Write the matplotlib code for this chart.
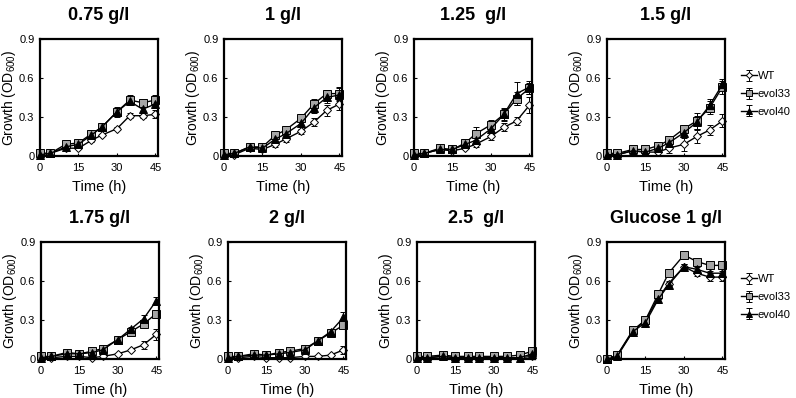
import matplotlib
matplotlib.use('Agg')
from matplotlib import pyplot as plt

plt.rcParams['font.family'] = ['Liberation Sans', 'DejaVu Sans']
plt.rcParams['mathtext.default'] = 'regular'

titles = ['0.75 g/l', '1 g/l', '1.25  g/l', '1.5 g/l',
          '1.75 g/l', '2 g/l', '2.5  g/l', 'Glucose 1 g/l']
time_h = [0, 4, 10, 15, 20, 24, 30, 35, 40, 45]

# mean OD600 per panel
wt_mean = [
    [0.02, 0.02, 0.06, 0.06, 0.12, 0.16, 0.21, 0.31, 0.31, 0.32],
    [0.01, 0.01, 0.06, 0.05, 0.09, 0.13, 0.19, 0.26, 0.35, 0.40],
    [0.01, 0.02, 0.05, 0.04, 0.06, 0.09, 0.15, 0.22, 0.27, 0.39],
    [0.01, 0.01, 0.04, 0.03, 0.03, 0.06, 0.09, 0.15, 0.20, 0.27],
    [0.01, 0.01, 0.02, 0.02, 0.01, 0.02, 0.04, 0.07, 0.11, 0.19],
    [0.01, 0.01, 0.02, 0.01, 0.01, 0.01, 0.02, 0.02, 0.03, 0.07],
    [0.01, 0.01, 0.02, 0.01, 0.01, 0.01, 0.01, 0.01, 0.01, 0.02],
    [0.00, 0.03, 0.21, 0.30, 0.47, 0.58, 0.71, 0.66, 0.63, 0.63],
]
e33_mean = [
    [0.02, 0.02, 0.09, 0.10, 0.17, 0.22, 0.34, 0.43, 0.41, 0.43],
    [0.02, 0.02, 0.07, 0.07, 0.16, 0.20, 0.29, 0.40, 0.48, 0.48],
    [0.02, 0.02, 0.06, 0.05, 0.10, 0.17, 0.24, 0.32, 0.44, 0.52],
    [0.02, 0.02, 0.05, 0.05, 0.08, 0.12, 0.21, 0.27, 0.37, 0.53],
    [0.02, 0.02, 0.05, 0.04, 0.06, 0.08, 0.15, 0.21, 0.27, 0.35],
    [0.02, 0.02, 0.04, 0.03, 0.05, 0.06, 0.08, 0.14, 0.20, 0.26],
    [0.02, 0.02, 0.03, 0.02, 0.02, 0.02, 0.02, 0.02, 0.03, 0.06],
    [0.00, 0.03, 0.22, 0.30, 0.50, 0.66, 0.80, 0.75, 0.72, 0.72],
]
e40_mean = [
    [0.01, 0.02, 0.07, 0.09, 0.16, 0.22, 0.34, 0.42, 0.36, 0.40],
    [0.01, 0.02, 0.07, 0.06, 0.13, 0.17, 0.25, 0.37, 0.45, 0.47],
    [0.01, 0.02, 0.05, 0.05, 0.09, 0.12, 0.21, 0.32, 0.48, 0.53],
    [0.01, 0.01, 0.04, 0.03, 0.06, 0.10, 0.18, 0.26, 0.39, 0.55],
    [0.01, 0.02, 0.04, 0.04, 0.05, 0.07, 0.15, 0.23, 0.31, 0.45],
    [0.01, 0.02, 0.03, 0.03, 0.04, 0.05, 0.07, 0.14, 0.21, 0.32],
    [0.01, 0.01, 0.02, 0.01, 0.01, 0.01, 0.01, 0.01, 0.01, 0.04],
    [0.00, 0.02, 0.21, 0.28, 0.46, 0.57, 0.71, 0.69, 0.66, 0.66],
]

# error bars (SD)
wt_err = [
    [0, 0, 0.01, 0.01, 0.01, 0.01, 0.01, 0.02, 0.02, 0.03],
    [0, 0, 0.01, 0.01, 0.02, 0.02, 0.02, 0.03, 0.04, 0.05],
    [0, 0, 0.01, 0.01, 0.01, 0.02, 0.03, 0.03, 0.03, 0.06],
    [0, 0, 0.01, 0.01, 0.02, 0.04, 0.05, 0.05, 0.04, 0.05],
    [0, 0, 0.01, 0.01, 0.01, 0.01, 0.01, 0.01, 0.03, 0.04],
    [0, 0, 0, 0, 0, 0, 0, 0.01, 0.01, 0.03],
    [0, 0, 0.01, 0, 0, 0, 0, 0, 0.01, 0.01],
    [0, 0.01, 0.01, 0.01, 0.01, 0.02, 0.02, 0.02, 0.03, 0.03],
]
e33_err = [
    [0, 0, 0.01, 0.01, 0.02, 0.02, 0.03, 0.04, 0.02, 0.04],
    [0, 0, 0.01, 0.01, 0.03, 0.03, 0.03, 0.04, 0.03, 0.05],
    [0, 0, 0.01, 0.01, 0.02, 0.05, 0.04, 0.05, 0.05, 0.04],
    [0, 0, 0.01, 0.01, 0.02, 0.02, 0.03, 0.06, 0.05, 0.05],
    [0, 0, 0.01, 0.01, 0.01, 0.01, 0.02, 0.02, 0.02, 0.03],
    [0, 0, 0.01, 0.01, 0.01, 0.01, 0.01, 0.01, 0.02, 0.02],
    [0, 0, 0.01, 0.01, 0.01, 0.01, 0.01, 0.01, 0.01, 0.01],
    [0, 0.01, 0.01, 0.01, 0.02, 0.02, 0.02, 0.02, 0.02, 0.02],
]
e40_err = [
    [0, 0, 0.01, 0.01, 0.01, 0.02, 0.04, 0.03, 0.02, 0.03],
    [0, 0, 0.01, 0.01, 0.02, 0.03, 0.03, 0.04, 0.04, 0.05],
    [0, 0, 0.01, 0.01, 0.02, 0.03, 0.03, 0.04, 0.09, 0.05],
    [0, 0, 0.01, 0.01, 0.02, 0.02, 0.02, 0.05, 0.05, 0.04],
    [0, 0, 0.01, 0.01, 0.01, 0.01, 0.02, 0.02, 0.03, 0.03],
    [0, 0, 0.01, 0.01, 0.01, 0.01, 0.01, 0.01, 0.02, 0.04],
    [0, 0, 0.01, 0.01, 0.01, 0.01, 0.01, 0.01, 0.01, 0.01],
    [0, 0.01, 0.01, 0.01, 0.02, 0.02, 0.02, 0.02, 0.02, 0.02],
]

W, H = 796, 398
fig = plt.figure(figsize=(W / 100, H / 100), dpi=100)

lefts = [40, 224, 414, 607, 41, 228, 417, 607]
tops = [39, 39, 39, 39, 242, 242, 242, 242]
aw, ah = 118, 117

styles = [
    ('WT', 'D', 'white', 4.0),
    ('evol33', 's', '#a6a6a6', 5.2),
    ('evol40', '^', 'black', 5.5),
]

for i in range(8):
    ax = fig.add_axes([lefts[i] / W, 1 - (tops[i] + ah) / H, aw / W, ah / H])
    series = [(wt_mean[i], wt_err[i]), (e33_mean[i], e33_err[i]), (e40_mean[i], e40_err[i])]
    for (name, mk, fc, ms), (m, e) in zip(styles, series):
        ax.errorbar(time_h, m, yerr=e, color='black', lw=1.0, marker=mk,
                    mfc=fc, mec='black', mew=0.7, ms=ms, capsize=2.5,
                    elinewidth=0.7, capthick=0.7, clip_on=False, label=name)
    ax.set_xlim(0, 46)
    ax.set_ylim(0, 0.9)
    ax.set_xticks([0, 15, 30, 45])
    ax.set_yticks([0, 0.3, 0.6, 0.9])
    ax.set_yticklabels(['0', '0.3', '0.6', '0.9'])
    ax.tick_params(direction='in', length=2, width=0.8, labelsize=8, colors='black')
    ax.tick_params(axis='x', pad=5)
    ax.tick_params(axis='y', pad=4)
    for sp in ax.spines.values():
        sp.set_linewidth(1.6)
    ax.set_title(titles[i], fontsize=13, fontweight='bold', pad=14)
    ax.set_xlabel('Time (h)', fontsize=10.5, labelpad=5)
    ax.set_ylabel('Growth (OD$_{600}$)', fontsize=10, labelpad=1)
    if i in (3, 7):
        ax.legend(loc='center left', bbox_to_anchor=(1.1, 0.53), frameon=False,
                  fontsize=8, handlelength=1.4, handletextpad=0.1, labelspacing=0.7,
                  borderaxespad=0, markerscale=0.8)

fig.savefig('out.png', dpi=100)
